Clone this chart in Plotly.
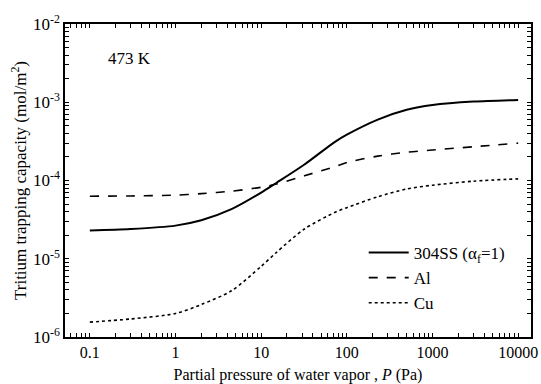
import plotly.graph_objects as go

pressure = [0.1, 0.3, 1, 2, 4.5, 10, 15, 32, 72, 100, 230, 500, 1000, 3000, 10000]
ss304 = [2.3e-5, 2.4e-5, 2.65e-5, 3.1e-5, 4.3e-5, 7.0e-5, 9.3e-5, 1.6e-4, 3.1e-4, 3.85e-4, 6.0e-4, 8.0e-4, 9.2e-4, 1.02e-3, 1.07e-3]
al = [6.3e-5, 6.35e-5, 6.5e-5, 6.8e-5, 7.3e-5, 8.2e-5, 9.0e-5, 1.15e-4, 1.5e-4, 1.7e-4, 2.05e-4, 2.3e-4, 2.45e-4, 2.7e-4, 3.0e-4]
cu = [1.55e-6, 1.7e-6, 2.0e-6, 2.6e-6, 3.9e-6, 8.0e-6, 1.2e-5, 2.4e-5, 3.9e-5, 4.5e-5, 6.2e-5, 7.8e-5, 8.7e-5, 9.8e-5, 1.05e-4]

x_tickvals = [0.1, 1, 10, 100, 1000, 10000]
x_ticktext = ["0.1", "1", "10", "100", "1000", "10000"]
y_tickvals = [1e-6, 1e-5, 1e-4, 1e-3, 1e-2]
y_ticktext = ["10<sup>-6</sup>", "10<sup>-5</sup>", "10<sup>-4</sup>", "10<sup>-3</sup>", "10<sup>-2</sup>"]

x_minor = [m * 10.0 ** e for e in range(-2, 5) for m in range(2, 10)]
y_minor = [m * 10.0 ** e for e in range(-6, -2) for m in range(2, 10)]

font = "Liberation Serif, Times New Roman, serif"
FS = 17

fig = go.Figure()
fig.add_trace(go.Scatter(x=pressure, y=ss304, mode="lines", name="304SS (α<sub>f</sub>=1)",
                         line=dict(color="black", width=2, shape="spline", smoothing=0.8)))
fig.add_trace(go.Scatter(x=pressure, y=al, mode="lines", name="Al",
                         line=dict(color="black", width=1.6, dash="dash", shape="spline", smoothing=0.8)))
fig.add_trace(go.Scatter(x=pressure, y=cu, mode="lines", name="Cu",
                         line=dict(color="black", width=1.6, dash="dot", shape="spline", smoothing=0.8)))

XR = [-1.29, 4.15]
YR = [-6, -2]

fig.update_layout(
    xaxis=dict(type="log", range=XR, tickmode="array",
               tickvals=x_tickvals + x_minor, ticktext=x_ticktext + [""] * len(x_minor),
               automargin=False,
               showline=True, linecolor="black", linewidth=1.5, mirror="allticks",
               ticks="inside", ticklen=4.5, tickcolor="black", tickwidth=1.1,
               showgrid=False, zeroline=False, tickfont=dict(size=16),
               title=dict(text="Partial pressure of water vapor , <i>P</i> (Pa)",
                          font=dict(size=16))),
    yaxis=dict(type="log", range=YR, tickmode="array",
               tickvals=y_tickvals + y_minor, ticktext=y_ticktext + [""] * len(y_minor),
               automargin=True,
               showline=True, linecolor="black", linewidth=1.5, mirror="allticks",
               ticks="inside", ticklen=4.5, tickcolor="black", tickwidth=1.1,
               showgrid=False, zeroline=False, tickfont=dict(size=FS),
               title=dict(text="Tritium trapping capacity (mol/m<sup>2</sup>)", standoff=2,
                          font=dict(size=FS))),
    width=541, height=384,
    margin=dict(l=65, r=8, t=24, b=47),
    paper_bgcolor="white", plot_bgcolor="white",
    font=dict(family=font, color="black", size=FS),
    legend=dict(x=0.641, y=0.326, xanchor="left", yanchor="top", bgcolor="rgba(0,0,0,0)",
                font=dict(size=FS), tracegroupgap=0, itemwidth=40),
)

fig.add_annotation(x=0.139, y=0.891, xref="paper", yref="paper", text="473 K", showarrow=False,
                   xanchor="center", yanchor="middle", font=dict(size=FS))

fig.write_html("out.html", config={"displayModeBar": False},
               post_script="document.body.style.margin='0';document.body.style.overflow='hidden';")
